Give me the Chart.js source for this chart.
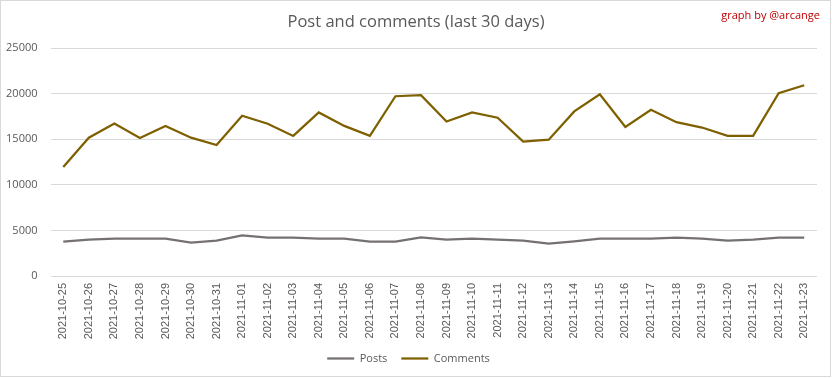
<!DOCTYPE html>
<html>
<head>
<meta charset="utf-8">
<script src="https://cdn.jsdelivr.net/npm/chart.js@4/dist/chart.umd.min.js"></script>
<style>
  html,body{margin:0;padding:0;background:#fff;}
  #wrap{position:relative;width:832px;height:378px;}
</style>
</head>
<body>
<div id="wrap"><canvas id="c"></canvas></div>
<script>
// ----- data -----
const days = ['2021-10-25','2021-10-26','2021-10-27','2021-10-28','2021-10-29','2021-10-30','2021-10-31',
  '2021-11-01','2021-11-02','2021-11-03','2021-11-04','2021-11-05','2021-11-06','2021-11-07','2021-11-08',
  '2021-11-09','2021-11-10','2021-11-11','2021-11-12','2021-11-13','2021-11-14','2021-11-15','2021-11-16',
  '2021-11-17','2021-11-18','2021-11-19','2021-11-20','2021-11-21','2021-11-22','2021-11-23'];
const posts = [3760,3980,4090,4090,4090,3650,3870,4460,4200,4200,4090,4090,3760,3760,4240,
  3980,4090,3980,3870,3540,3800,4090,4090,4090,4200,4090,3870,3980,4200,4200];
const comments = [11950,15170,16720,15140,16460,15170,14360,17570,16690,15360,17940,16460,15360,19710,19820,
  16940,17940,17350,14730,14950,18050,19930,16350,18230,16870,16280,15360,15360,20040,20920];
const yTicks = [0,5000,10000,15000,20000,25000];

const TITLE = 'Post and comments (last 30 days)';
const CREDIT = 'graph by @arcange';
const grey = '#595959';

// title, credit and frame
const decor = {
  id:'decor',
  afterDraw(chart){
    const ctx = chart.ctx;
    ctx.save();
    ctx.strokeStyle = '#d9d9d9'; ctx.lineWidth = 1;
    ctx.strokeRect(0.5,0.5,830,376);
    ctx.fillStyle = grey;
    ctx.font = '16.5px "Open Sans", sans-serif';
    ctx.textAlign = 'center'; ctx.textBaseline = 'middle';
    ctx.fillText(TITLE, 416, 22);
    ctx.fillStyle = '#c00000';
    ctx.font = '11px "Open Sans", sans-serif';
    ctx.textAlign = 'right';
    ctx.fillText(CREDIT, 820, 16);
    ctx.restore();
  }
};

new Chart(document.getElementById('c'), {
  type:'line',
  data:{
    labels: days,
    datasets:[
      {label:'Posts', data:posts, borderColor:'#767171', backgroundColor:'#767171', borderWidth:2.25, pointRadius:0, pointStyle:'line', tension:0},
      {label:'Comments', data:comments, borderColor:'#7f6000', backgroundColor:'#7f6000', borderWidth:2.25, pointRadius:0, pointStyle:'line', tension:0}
    ]
  },
  options:{
    responsive:true, maintainAspectRatio:false, animation:false,
    layout:{ padding:{ top:48, right:15, left:0, bottom:4 } },
    plugins:{
      title:{display:false},
      tooltip:{enabled:false},
      legend:{
        position:'bottom',
        labels:{
          usePointStyle:true, pointStyle:'line', pointStyleWidth:27, boxHeight:2,
          color:grey, padding:14,
          font:{ family:'"Open Sans", sans-serif', size:11 }
        }
      }
    },
    scales:{
      x:{
        offset:true,
        grid:{ display:false, drawTicks:false },
        border:{ display:false },
        ticks:{ color:grey, maxRotation:90, minRotation:90, autoSkip:false, padding:7,
          font:{ family:'"Liberation Sans", sans-serif', size:11 } },
        afterFit(s){ s.height = 63; }
      },
      y:{
        min:0, max:25000,
        afterBuildTicks(s){ s.ticks = yTicks.map(v=>({value:v})); },
        grid:{ color:'#d9d9d9', drawTicks:false },
        border:{ display:false },
        ticks:{ color:grey, padding:13, font:{ family:'"Open Sans", sans-serif', size:11 },
          callback:v=>String(v) },
        afterFit(s){ s.width = 50.5; }
      }
    }
  },
  plugins:[decor]
});
</script>
</body>
</html>
